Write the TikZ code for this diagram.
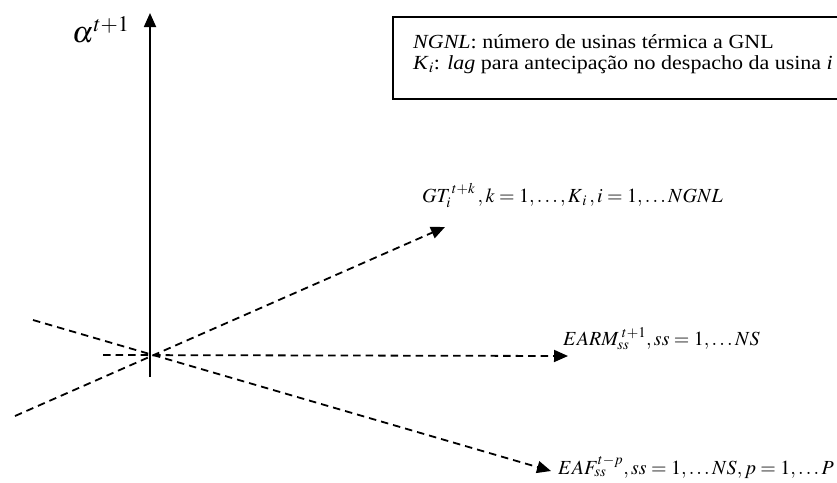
\documentclass[tikz,border=0pt]{standalone}
\usepackage{mathptmx}
\usepackage{fontspec}
\setmainfont{Liberation Serif}
\usetikzlibrary{arrows.meta}
\tikzset{
  axisline/.style={line width=1.8pt},
  dashline/.style={line width=1.8pt, dash pattern=on 7.5pt off 5pt},
  tip/.style={-{Triangle[length=14pt,width=12pt]}},
  lbl/.style={anchor=base west, inner sep=0pt, font=\fontsize{20}{22}\selectfont},
  legtext/.style={anchor=base west, inner sep=0pt, xscale=1.1, font=\fontsize{20}{22}\selectfont},
}
\begin{document}
\begin{tikzpicture}[x=1pt,y=-1pt]
\useasboundingbox (0,0) rectangle (837,482);
\clip (0,0) rectangle (837,482);
% coordinates
\coordinate (o) at (150,355);
\coordinate (vbot) at (150,377);
\coordinate (vtop) at (150,13);
\coordinate (gtstart) at (15,416);
\coordinate (gtend) at (445,227);
\coordinate (earmstart) at (103,355);
\coordinate (earmend) at (568,356);
\coordinate (eafstart) at (33,320);
\coordinate (eafend) at (551,471);
% axis
\draw[axisline,tip] (vbot) -- (vtop);
% dashed axes
\draw[dashline,tip] (gtstart) -- (gtend);
\draw[dashline,tip] (earmstart) -- (earmend);
\draw[dashline,tip] (eafstart) -- (eafend);
% legend box
\draw[line width=1.4pt] (393,17) rectangle (860,99);
\node[legtext] (leg1) at (413,48) {\textit{NGNL}: número de usinas térmica a GNL};
\node[legtext] (leg2) at (413,69) {\textit{K}$_i$: \textit{lag} para antecipação no despacho da usina \textit{i}};
% labels
\node[anchor=base west, inner sep=0pt, font=\fontsize{30}{32}\selectfont] (alpha) at (72,42) {$\alpha^{t+1}$};
\node[lbl] (gt) at (422,202) {$GT_i^{\,t+k}\,,k = 1,\ldots, K_{\,i}\,,i = 1,\ldots NGNL$};
\node[lbl] (earm) at (563,345) {$EARM_{ss}^{\;t+1}, ss = 1,\ldots NS$};
\node[lbl] (eaf) at (558,474) {$EAF_{ss}^{t-p}, ss = 1,\ldots NS, p = 1,\ldots P$};
\end{tikzpicture}
\end{document}
